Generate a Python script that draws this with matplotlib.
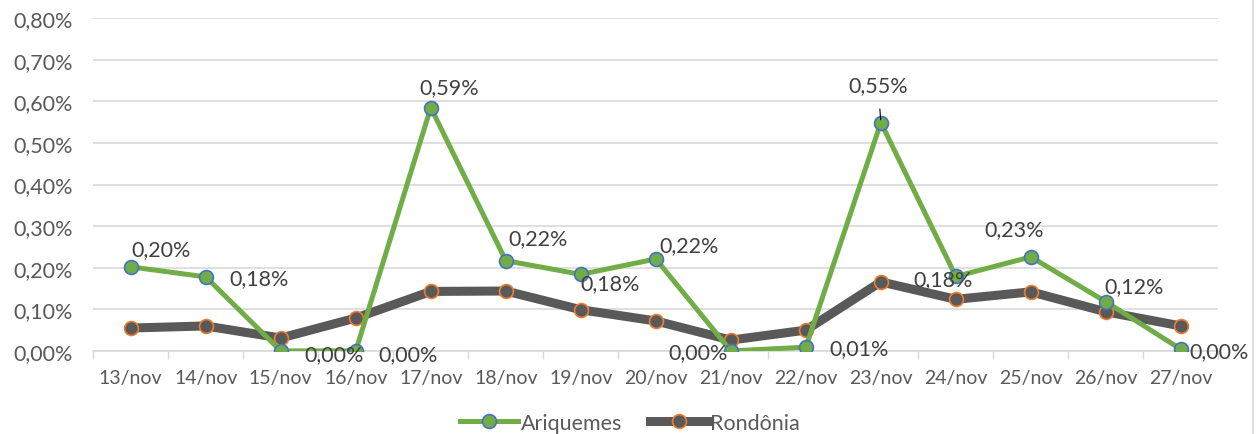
import matplotlib.pyplot as plt
from matplotlib.lines import Line2D
from matplotlib.ticker import FuncFormatter, MultipleLocator

plt.rcParams['font.family'] = ['Lato', 'DejaVu Sans']

days = ['13/nov', '14/nov', '15/nov', '16/nov', '17/nov', '18/nov', '19/nov', '20/nov',
        '21/nov', '22/nov', '23/nov', '24/nov', '25/nov', '26/nov', '27/nov']
ariquemes = [0.202, 0.178, 0.0, 0.0, 0.585, 0.217, 0.184, 0.221,
             0.0, 0.009, 0.549, 0.179, 0.226, 0.118, 0.004]
rondonia = [0.055, 0.060, 0.031, 0.079, 0.143, 0.144, 0.099, 0.072,
            0.026, 0.050, 0.166, 0.124, 0.142, 0.094, 0.060]
labels = ['0,20%', '0,18%', '0,00%', '0,00%', '0,59%', '0,22%', '0,18%', '0,22%',
          '0,00%', '0,01%', '0,55%', '0,18%', '0,23%', '0,12%', '0,00%']

# label offsets in points (dx, dy) and horizontal alignment
offsets = [(22, 13, 'center'), (17, -1, 'left'), (17, -2, 'left'), (16, -2, 'left'),
           (13, 15, 'center'), (23, 16, 'center'), (0, -6, 'left'), (24, 10, 'center'),
           (-2, -1, 'right'), (17, -1, 'left'), (-2, 27, 'center'), (-9, -2, 'center'),
           (-12, 20, 'center'), (20, 11, 'center'), (6, -1, 'left')]

green = '#70AD47'
grey = '#595959'
txt = '#404040'
fs = 15.5

fig = plt.figure(figsize=(12.6, 4.35), dpi=100)
ax = fig.add_axes([0.074, 0.191, 0.893, 0.765])

x = range(len(days))
ax.plot(x, ariquemes, color=green, lw=3.6, marker='o', ms=10,
        mfc=green, mec='#4472C4', mew=1.2, label='Ariquemes', zorder=3, solid_joinstyle='round')
ax.plot(x, rondonia, color=grey, lw=6.5, marker='o', ms=10,
        mfc=grey, mec='#ED7D31', mew=1.2, label='Rondônia', zorder=2, solid_joinstyle='round')

for i, (v, lab) in enumerate(zip(ariquemes, labels)):
    dx, dy, ha = offsets[i]
    if i == 10:
        ax.annotate(lab, (i, v), xytext=(dx, dy), textcoords='offset points',
                    ha=ha, va='center', fontsize=fs, color=txt, zorder=5,
                    arrowprops=dict(arrowstyle='-', color='black', lw=0.8, shrinkA=8, shrinkB=2))
    else:
        ax.annotate(lab, (i, v), xytext=(dx, dy), textcoords='offset points',
                    ha=ha, va='center', fontsize=fs, color=txt, zorder=5)

ax.set_xlim(-0.5, len(days) - 0.5)
ax.set_ylim(0, 0.8)
ax.yaxis.set_major_locator(MultipleLocator(0.1))
ax.yaxis.set_major_formatter(FuncFormatter(lambda v, p: f'{v:.2f}%'.replace('.', ',')))
ax.set_xticks(list(x))
ax.set_xticklabels(days)
ax.set_xticks([i + 0.5 for i in range(-1, len(days))], minor=True)
ax.tick_params(axis='x', which='major', length=0, pad=13, labelsize=14, labelcolor='#595959')
ax.tick_params(axis='x', which='minor', length=6, color='#D9D9D9', width=1)
ax.tick_params(axis='y', length=0, pad=15, labelsize=fs, labelcolor='#595959')
ax.grid(axis='y', color='#D9D9D9', lw=1.2)
ax.set_axisbelow(True)
for s in ['top', 'right', 'left']:
    ax.spines[s].set_visible(False)
ax.spines['bottom'].set_color('#D9D9D9')
ax.spines['bottom'].set_linewidth(1.2)

fig.legend(loc='lower center', bbox_to_anchor=(0.5, -0.042), ncol=2, frameon=False,
           fontsize=fs, handlelength=2.7, handletextpad=0.1, columnspacing=1.3,
           labelcolor='#595959')

# chart area border on the right
fig.add_artist(Line2D([0.9945, 0.9945], [0, 1], color='#D9D9D9', lw=1.2, transform=fig.transFigure))

fig.savefig('out.png', dpi=100)
